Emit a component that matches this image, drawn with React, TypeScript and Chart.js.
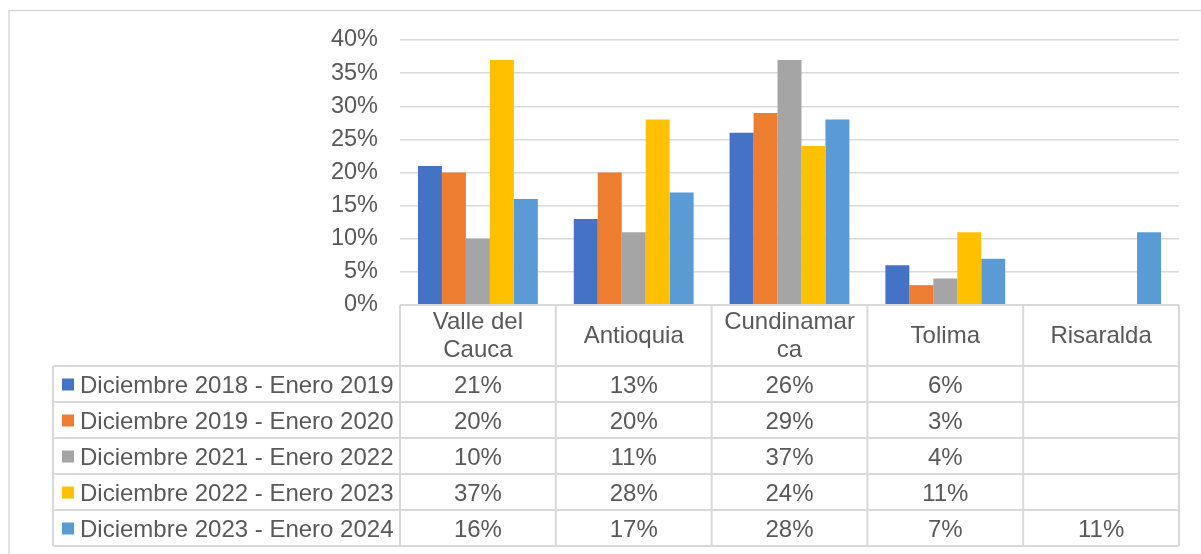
import React, { useEffect, useRef } from "react";
import { Chart, registerables } from "chart.js";

Chart.register(...registerables);

const categories: string[][] = [
  ["Valle del", "Cauca"],
  ["Antioquia"],
  ["Cundinamar", "ca"],
  ["Tolima"],
  ["Risaralda"],
];

const seriesNames = [
  "Diciembre 2018 - Enero 2019",
  "Diciembre 2019 - Enero 2020",
  "Diciembre 2021 - Enero 2022",
  "Diciembre 2022 - Enero 2023",
  "Diciembre 2023 - Enero 2024",
];

const s2018: (number | null)[] = [21, 13, 26, 6, null];
const s2019: (number | null)[] = [20, 20, 29, 3, null];
const s2021: (number | null)[] = [10, 11, 37, 4, null];
const s2022: (number | null)[] = [37, 28, 24, 11, null];
const s2023: (number | null)[] = [16, 17, 28, 7, 11];

const seriesColors = ["#4472C4", "#ED7D31", "#A5A5A5", "#FFC000", "#5B9BD5"];

const yTicks = [0, 5, 10, 15, 20, 25, 30, 35, 40];

const FAMILY = '"Liberation Sans", Arial, sans-serif';
const FONT = `24px ${FAMILY}`;
const TEXT = "#595959";
const LINE = "#D9D9D9";

const W = 1201;
const H = 554;

export default function App() {
  const ref = useRef<HTMLCanvasElement | null>(null);

  useEffect(() => {
    if (!ref.current) return;
    const allSeries = [s2018, s2019, s2021, s2022, s2023];

    const framePlugin = {
      id: "frame",
      beforeDraw(chart: any) {
        const ctx = chart.ctx;
        ctx.save();
        ctx.fillStyle = "#ffffff";
        ctx.fillRect(0, 0, W, H);
        ctx.strokeStyle = LINE;
        ctx.lineWidth = 1.5;
        ctx.strokeRect(9, 10.5, W + 20, H + 20);
        ctx.restore();
      },
    };

    const tablePlugin = {
      id: "dataTable",
      afterDraw(chart: any) {
        const ctx = chart.ctx;
        const { left, right, bottom } = chart.chartArea;
        const xs = chart.scales.x;
        const n = categories.length;
        const colW = (right - left) / n;
        const headerBottom = bottom + 61;
        const rowH = 36;
        const tableLeft = 53;
        const tableBottom = headerBottom + rowH * allSeries.length;

        ctx.save();
        ctx.strokeStyle = LINE;
        ctx.lineWidth = 2;
        ctx.beginPath();
        ctx.moveTo(left, bottom);
        ctx.lineTo(right, bottom);
        for (let k = 0; k <= allSeries.length; k++) {
          const y = headerBottom + k * rowH;
          ctx.moveTo(tableLeft, y);
          ctx.lineTo(right, y);
        }
        for (let i = 0; i <= n; i++) {
          const x = left + i * colW;
          ctx.moveTo(x, bottom);
          ctx.lineTo(x, tableBottom);
        }
        ctx.moveTo(tableLeft, headerBottom);
        ctx.lineTo(tableLeft, tableBottom);
        ctx.stroke();

        ctx.font = FONT;
        ctx.fillStyle = TEXT;
        ctx.textAlign = "center";
        ctx.textBaseline = "middle";
        const headerMid = (bottom + headerBottom) / 2 + 1;
        const lineH = 28;
        categories.forEach((lines, i) => {
          const cx = xs.getPixelForValue(i);
          const y0 = headerMid - ((lines.length - 1) * lineH) / 2;
          lines.forEach((t, j) => ctx.fillText(t, cx, y0 + j * lineH));
        });

        allSeries.forEach((vals, r) => {
          const cy = headerBottom + r * rowH + rowH / 2 + 2;
          vals.forEach((v, i) => {
            if (v === null) return;
            ctx.textAlign = "center";
            ctx.fillText(`${v}%`, xs.getPixelForValue(i), cy);
          });
          ctx.fillStyle = seriesColors[r];
          ctx.fillRect(62, cy - 7.5, 12, 12);
          ctx.fillStyle = TEXT;
          ctx.textAlign = "left";
          ctx.fillText(seriesNames[r], 80, cy);
        });
        ctx.restore();
      },
    };

    const chart = new Chart(ref.current, {
      type: "bar",
      data: {
        labels: categories,
        datasets: allSeries.map((d, i) => ({
          label: seriesNames[i],
          data: d,
          backgroundColor: seriesColors[i],
          borderWidth: 0,
          categoryPercentage: 5 / 6.5,
          barPercentage: 1,
        })),
      },
      options: {
        animation: false,
        responsive: false,
        devicePixelRatio: 1,
        layout: { padding: { left: 0, top: 40, right: 22, bottom: 249 } },
        plugins: {
          legend: { display: false },
          tooltip: { enabled: false },
          title: { display: false },
        },
        scales: {
          x: { display: false },
          y: {
            min: 0,
            max: 40,
            afterFit(scale: any) {
              scale.width = 400;
            },
            afterBuildTicks(scale: any) {
              scale.ticks = yTicks.map((v) => ({ value: v }));
            },
            border: { display: false },
            grid: { color: LINE, lineWidth: 1.5, drawTicks: false },
            ticks: {
              padding: 22,
              color: TEXT,
              font: { family: FAMILY, size: 23.5 },
              callback: (v: any) => `${v}%`,
            },
          },
        },
      },
      plugins: [framePlugin, tablePlugin],
    });
    return () => chart.destroy();
  }, []);

  return (
    <div style={{ position: "absolute", left: 0, top: 0, width: W, height: H }}>
      <canvas ref={ref} width={W} height={H} style={{ width: W, height: H, display: "block" }} />
    </div>
  );
}
